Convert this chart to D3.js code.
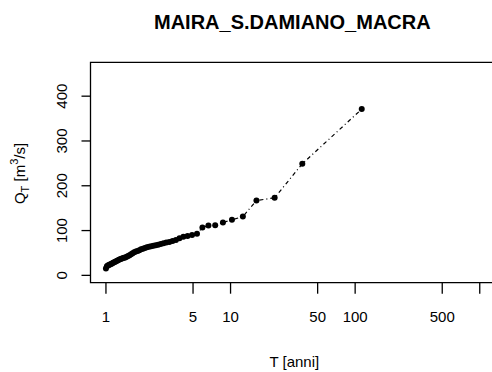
<!DOCTYPE html>
<html><head><meta charset="utf-8">
<script src="https://cdn.jsdelivr.net/npm/d3@7"></script>
<style>html,body{margin:0;padding:0;background:#fff;overflow:hidden}svg{display:block}text{font-family:"Liberation Sans",Arial,sans-serif;fill:#000}</style>
</head><body>
<script>
const title = "MAIRA_S.DAMIANO_MACRA";
// return period T (plotting positions) and discharge Q, ranks 1..57
const returnPeriod = [114, 38, 22.8, 16.29, 12.67, 10.36, 8.769, 7.6, 6.706, 6.0,
  5.429, 4.957, 4.56, 4.222, 3.931, 3.677, 3.455, 3.257, 3.081, 2.923,
  2.780, 2.651, 2.533, 2.426, 2.327, 2.235, 2.151, 2.073, 2.0, 1.932,
  1.869, 1.810, 1.754, 1.701, 1.652, 1.606, 1.562, 1.520, 1.481, 1.443,
  1.407, 1.374, 1.341, 1.310, 1.281, 1.253, 1.226, 1.2, 1.175, 1.152,
  1.129, 1.107, 1.086, 1.065, 1.046, 1.027, 1.009];
const discharge = [370, 248, 172, 166, 130, 123, 117, 110.5, 110, 106,
  92, 89, 87, 85, 82, 78, 75.5, 73.5, 72, 70.5,
  69, 67, 66, 65, 64, 63, 61.5, 60, 58.5, 57,
  55, 53, 52, 50.5, 48.5, 46, 44, 42, 40.5, 39,
  38, 37, 36, 35, 33.5, 32, 31, 29.5, 28, 27,
  25.5, 24, 23, 22, 21, 19, 14];
const xTicks = [1, 5, 10, 50, 100, 500, 1000];
const xTickLabels = ["1", "5", "10", "50", "100", "500", ""];
const yTicks = [0, 100, 200, 300, 400];

const W = 492, H = 372;
const mL = 90.5, mR = 494.2, mT = 62.3, mB = 282.7;
const svg = d3.select("body").append("svg").attr("width", W).attr("height", H);

const x = d3.scaleLog().domain([Math.pow(10, -0.12), Math.pow(10, 3.12)]).range([mL, mR]);
const y = d3.scaleLinear().domain([-17.5, 474.5]).range([mB, mT]);

const data = returnPeriod.map((t, i) => ({t, q: discharge[i]}));

// line
svg.append("path").datum(data)
  .attr("fill", "none").attr("stroke", "#000").attr("stroke-width", 1.2)
  .attr("stroke-dasharray", "1,3,4,3")
  .attr("d", d3.line().x(d => x(d.t)).y(d => y(d.q)));

// points
svg.append("g").selectAll("circle").data(data).join("circle")
  .attr("cx", d => x(d.t)).attr("cy", d => y(d.q)).attr("r", 3).attr("fill", "#000");

// box: left, top and bottom sides (right side lies outside the window)
svg.append("path").attr("fill", "none").attr("stroke", "#000").attr("stroke-width", 1.3)
  .attr("d", `M${W + 5},${mT}H${mL}V${mB}H${W + 5}`);

// x axis
const gx = svg.append("g").attr("transform", `translate(0,${mB})`)
  .call(d3.axisBottom(x).tickValues(xTicks).tickSize(11).tickPadding(18)
    .tickFormat((d, i) => xTickLabels[i]));
gx.select(".domain").remove();
gx.selectAll("line").attr("stroke", "#000").attr("stroke-width", 1.3);
gx.selectAll("text").attr("font-size", "15px").attr("fill", "#000");

// y axis
const gy = svg.append("g").attr("transform", `translate(${mL},0)`)
  .call(d3.axisLeft(y).tickValues(yTicks).tickSize(9).tickFormat(d3.format("d")));
gy.select(".domain").remove();
gy.selectAll("line").attr("stroke", "#000").attr("stroke-width", 1.3);
gy.selectAll("text").attr("font-size", "15px").attr("fill", "#000")
  .attr("text-anchor", "middle").attr("dy", 0)
  .attr("transform", "rotate(-90)").attr("x", 0).attr("y", -24);

// title
svg.append("text").attr("x", (mL + mR) / 2).attr("y", 28.5).attr("text-anchor", "middle")
  .attr("font-size", "20px").attr("font-weight", "bold").text(title);

// x label
svg.append("text").attr("x", (mL + mR) / 2 + 2).attr("y", 367).attr("text-anchor", "middle")
  .attr("font-size", "15px").text("T [anni]");

// y label
const yl = svg.append("text").attr("transform", `translate(25,${(mT + mB) / 2 + 1}) rotate(-90)`)
  .attr("text-anchor", "middle").attr("font-size", "15px");
yl.append("tspan").text("Q");
yl.append("tspan").attr("font-size", "11px").attr("dy", 4).text("T");
yl.append("tspan").attr("dy", -4).text(" [m");
yl.append("tspan").attr("font-size", "11px").attr("dy", -7).text("3");
yl.append("tspan").attr("dy", 7).text("/s]");
</script>
</body></html>
